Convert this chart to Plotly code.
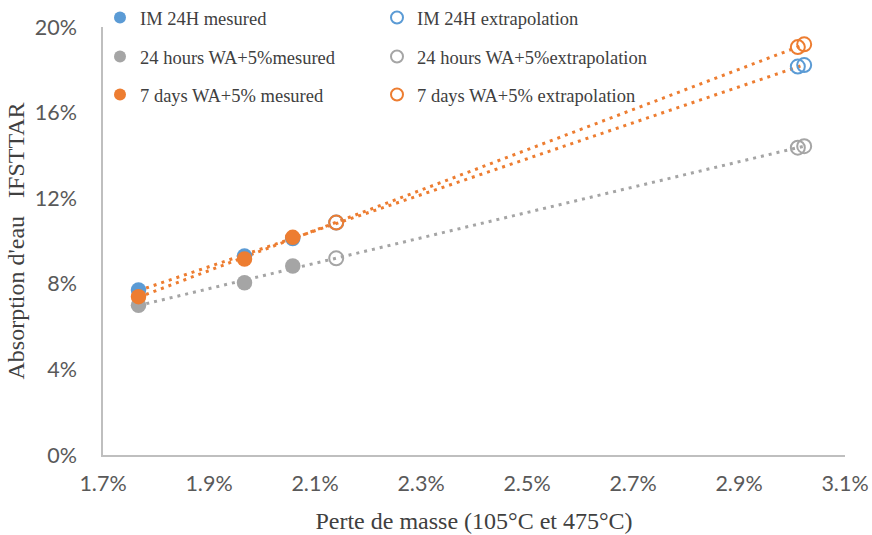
import numpy as np
import plotly.graph_objects as go

# ---- data (fractions) ----
x_mes = [0.01767, 0.01967, 0.02058]
x_ext = [0.02140, 0.03011, 0.03023]

im_mes = [0.0771, 0.0930, 0.1012]
im_ext = [0.1086, 0.1815, 0.1822]

wa24_mes = [0.0700, 0.0805, 0.0883]
wa24_ext = [0.0919, 0.1436, 0.1443]

wa7_mes = [0.0740, 0.0916, 0.1017]
wa7_ext = [0.1086, 0.1906, 0.1919]

names = {
    "im_m": "IM 24H mesured",
    "im_e": "IM 24H extrapolation",
    "g_m": "24 hours WA+5%mesured",
    "g_e": "24 hours WA+5%extrapolation",
    "o_m": "7 days WA+5% mesured",
    "o_e": "7 days WA+5% extrapolation",
}

x_ticks = [0.017, 0.019, 0.021, 0.023, 0.025, 0.027, 0.029, 0.031]
y_ticks = [0, 0.04, 0.08, 0.12, 0.16, 0.20]

BLUE = "#5B9BD5"
GRAY = "#A5A5A5"
ORANGE = "#ED7D31"

fig = go.Figure()

# trendlines (linear fits over each group's points)
def trend(xm, ym, xe, ye, color):
    xs = np.array(xm + xe)
    ys = np.array(ym + ye)
    a, b = np.polyfit(xs, ys, 1)
    xl = np.array([xs.min(), xs.max()])
    fig.add_trace(go.Scatter(x=xl, y=a * xl + b, mode="lines",
                             line=dict(color=color, width=3, dash="3px,5px"),
                             showlegend=False, hoverinfo="skip"))

trend(x_mes, wa24_mes, x_ext, wa24_ext, GRAY)
trend(x_mes, im_mes, x_ext, im_ext, ORANGE)
trend(x_mes, wa7_mes, x_ext, wa7_ext, ORANGE)

MS = 15.5

def filled(x, y, color, name, leg):
    fig.add_trace(go.Scatter(x=x, y=y, mode="markers", name=name,
                             marker=dict(color=color, size=MS, line=dict(width=0)),
                             legend=leg))

def hollow(x, y, color, name, leg):
    fig.add_trace(go.Scatter(x=x, y=y, mode="markers", name=name,
                             marker=dict(color="rgba(0,0,0,0)", size=MS - 1.5,
                                         line=dict(color=color, width=2)),
                             legend=leg))

# draw order: gray, blue, orange
filled(x_mes, wa24_mes, GRAY, names["g_m"], "legend3")
hollow(x_ext, wa24_ext, GRAY, names["g_e"], "legend4")
filled(x_mes, im_mes, BLUE, names["im_m"], "legend")
hollow(x_ext, im_ext, BLUE, names["im_e"], "legend2")
filled(x_mes, wa7_mes, ORANGE, names["o_m"], "legend5")
hollow(x_ext, wa7_ext, ORANGE, names["o_e"], "legend6")

SERIF = "Liberation Serif, Times New Roman, serif"
TICKF = dict(family="Lato, Carlito, Calibri, sans-serif", size=21.5, color="#595959")

W, H = 872, 535

def leg(left_px, cy_px):
    return dict(orientation="h", xref="container", yref="container",
                x=left_px / W, xanchor="left", y=1 - cy_px / H, yanchor="middle",
                bgcolor="rgba(0,0,0,0)", itemwidth=30, itemsizing="constant",
                font=dict(family=SERIF, size=18.5, color="#404040"),
                itemclick=False, itemdoubleclick=False)

COL1, COL2 = 100, 377
ROW1, ROW2, ROW3 = 18, 57, 95

fig.update_layout(
    width=W, height=H,
    margin=dict(l=103, r=27, t=27, b=80, autoexpand=False),
    paper_bgcolor="white", plot_bgcolor="white",
    showlegend=True,
    legend=leg(COL1, ROW1),
    legend2=leg(COL2, ROW1),
    legend3=leg(COL1, ROW2),
    legend4=leg(COL2, ROW2),
    legend5=leg(COL1, ROW3),
    legend6=leg(COL2, ROW3),
    xaxis=dict(range=[0.017, 0.031], tickvals=x_ticks, tickformat=".1%",
               automargin=False,
               showgrid=False, zeroline=False, showline=True,
               linecolor="#BFBFBF", linewidth=1.5, ticks="",
               tickfont=TICKF, ticklabelstandoff=8,
               title=dict(text="Perte de masse (105°C et 475°C)",
                          font=dict(family=SERIF, size=24, color="#404040"),
                          standoff=18)),
    yaxis=dict(range=[0, 0.20], tickvals=y_ticks, tickformat=".0%",
               automargin=False,
               showgrid=False, zeroline=False, showline=True,
               linecolor="#BFBFBF", linewidth=1.5, ticks="",
               tickfont=TICKF, ticklabelstandoff=20,
               title=dict(text="Absorption d'eau\u00a0\u00a0 IFSTTAR",
                          font=dict(family=SERIF, size=24, color="#404040"),
                          standoff=3)),
)

fig.write_html("out.html",
               config={"displayModeBar": False},
               post_script="document.body.style.margin='0';document.body.style.overflow='hidden';")
